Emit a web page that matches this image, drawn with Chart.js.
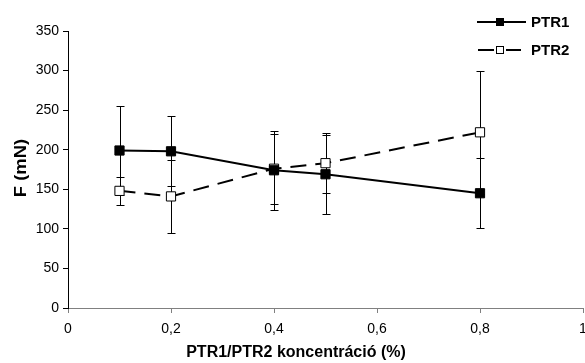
<!DOCTYPE html>
<html lang="hu">
<head>
  <meta charset="UTF-8">
  <title>PTR1 / PTR2</title>
  <style>
    html, body { margin: 0; padding: 0; background: #fff; overflow: hidden; }
    #wrap { width: 585px; height: 363px; }
  </style>
</head>
<body>
  <div id="wrap"><canvas id="chart" width="585" height="363"></canvas></div>

  <script src="https://cdn.jsdelivr.net/npm/chart.js"></script>
  <script>
    // values
    const concentrations = [0.1, 0.2, 0.4, 0.5, 0.8];
    const ptr1 = [199, 198, 174, 169, 145];
    const ptr1Err = [56, 44, 50, 50, 44];
    const ptr2 = [148, 141, 176, 183, 222];
    const ptr2Err = [18, 46, 44, 38, 78];
    const xTicks = [0, 0.2, 0.4, 0.6, 0.8, 1];
    const yTicks = [0, 50, 100, 150, 200, 250, 300, 350];

    const FONT = 'Liberation Sans, Arial, sans-serif';

    const points = (ys) => concentrations.map((x, i) => ({ x: x, y: ys[i] }));

    // error bars, drawn behind the markers
    const errorBars = {
      id: 'errorBars',
      beforeDatasetsDraw(chart) {
        const { ctx, scales: { x, y } } = chart;
        const sets = [[ptr1, ptr1Err], [ptr2, ptr2Err]];
        ctx.save();
        ctx.strokeStyle = '#000';
        ctx.lineWidth = 1;
        sets.forEach(([vals, errs]) => {
          vals.forEach((v, i) => {
            const px = Math.round(x.getPixelForValue(concentrations[i])) + 0.5;
            const top = Math.round(y.getPixelForValue(v + errs[i])) + 0.5;
            const bot = Math.round(y.getPixelForValue(v - errs[i])) + 0.5;
            ctx.beginPath();
            ctx.moveTo(px, top); ctx.lineTo(px, bot);
            ctx.moveTo(px - 4, top); ctx.lineTo(px + 4, top);
            ctx.moveTo(px - 4, bot); ctx.lineTo(px + 4, bot);
            ctx.stroke();
          });
        });
        ctx.restore();
      }
    };

    // axis titles and legend
    const decorations = {
      id: 'decorations',
      afterDraw(chart) {
        const { ctx } = chart;
        ctx.save();
        ctx.fillStyle = '#000';
        ctx.font = 'bold 16px ' + FONT;
        ctx.textAlign = 'center';
        ctx.textBaseline = 'middle';
        ctx.fillText('PTR1/PTR2 koncentráció (%)', 296, 353);
        ctx.translate(22, 168);
        ctx.rotate(-Math.PI / 2);
        ctx.scale(1.15, 1);
        ctx.fillText('F (mN)', 0, 0);
        ctx.restore();

        const items = [
          { label: 'PTR1', y: 22, dash: false, fill: '#000' },
          { label: 'PTR2', y: 50, dash: true, fill: '#fff' }
        ];
        ctx.save();
        items.forEach(it => {
          ctx.strokeStyle = '#000';
          ctx.lineWidth = 2;
          ctx.beginPath();
          if (it.dash) {
            ctx.moveTo(478, it.y); ctx.lineTo(494, it.y);
            ctx.moveTo(506, it.y); ctx.lineTo(521, it.y);
          } else {
            ctx.moveTo(477, it.y); ctx.lineTo(526, it.y);
          }
          ctx.stroke();
          ctx.fillStyle = it.fill;
          ctx.lineWidth = 1;
          ctx.fillRect(496, it.y - 4, 8, 8);
          ctx.strokeRect(496.5, it.y - 3.5, 7, 7);
          ctx.fillStyle = '#000';
          ctx.font = 'bold 15px ' + FONT;
          ctx.textAlign = 'left';
          ctx.textBaseline = 'middle';
          ctx.fillText(it.label, 531, it.y + 1);
        });
        ctx.restore();
      }
    };

    new Chart(document.getElementById('chart'), {
      type: 'line',
      data: {
        datasets: [
          {
            label: 'PTR1',
            data: points(ptr1),
            borderColor: '#000',
            borderWidth: 2,
            pointStyle: 'rect',
            pointRadius: 6.5,
            pointBackgroundColor: '#000',
            pointBorderColor: '#000',
            pointBorderWidth: 1,
            tension: 0
          },
          {
            label: 'PTR2',
            data: points(ptr2),
            borderColor: '#000',
            borderWidth: 2,
            borderDash: [16, 9],
            pointStyle: 'rect',
            pointRadius: 6.5,
            pointBackgroundColor: '#fff',
            pointBorderColor: '#000',
            pointBorderWidth: 1,
            tension: 0
          }
        ]
      },
      options: {
        responsive: false,
        animation: false,
        layout: { autoPadding: false, padding: { left: 0, right: 2, top: 31, bottom: 0 } },
        plugins: { legend: { display: false }, tooltip: { enabled: false } },
        scales: {
          x: {
            type: 'linear',
            min: 0,
            max: 1,
            afterBuildTicks: (s) => { s.ticks = xTicks.map(v => ({ value: v })); },
            afterFit: (s) => { s.height = 55; s.paddingLeft = 0; s.paddingRight = 0; },
            border: { color: '#808080', width: 1 },
            grid: { drawOnChartArea: false, tickLength: 5, color: '#808080' },
            ticks: {
              color: '#000',
              font: { family: FONT, size: 14 },
              padding: 8,
              maxRotation: 0,
              callback: (v) => String(v).replace('.', ',')
            }
          },
          y: {
            min: 0,
            max: 350,
            afterBuildTicks: (s) => { s.ticks = yTicks.map(v => ({ value: v })); },
            afterFit: (s) => { s.width = 68; s.paddingTop = 0; s.paddingBottom = 0; },
            border: { color: '#000', width: 1 },
            grid: { drawOnChartArea: false, tickLength: 5, color: '#000' },
            ticks: {
              color: '#000',
              font: { family: FONT, size: 14 },
              padding: 4
            }
          }
        }
      },
      plugins: [errorBars, decorations]
    });
  </script>
</body>
</html>
